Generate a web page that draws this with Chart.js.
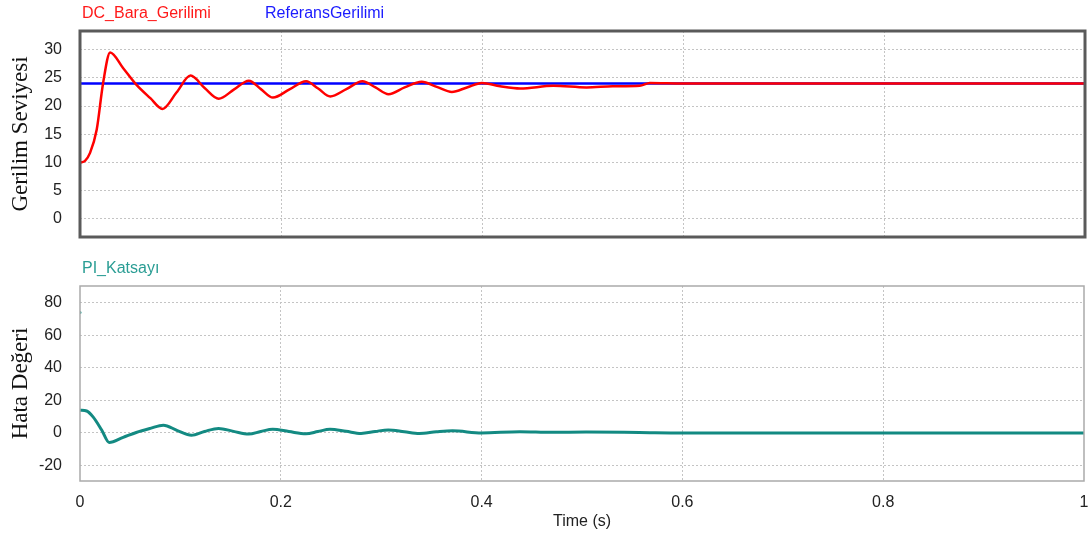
<!DOCTYPE html>
<html>
<head>
<meta charset="utf-8">
<script src="https://cdn.jsdelivr.net/npm/chart.js@4/dist/chart.umd.min.js"></script>
<style>
  html, body { margin: 0; padding: 0; background: #fff; }
  #wrap { position: relative; width: 1088px; height: 538px; overflow: hidden; }
  canvas { position: absolute; left: 0; }
  #top-chart    { top: 0; }
  #bottom-chart { top: 245px; }
  .legend {
    position: absolute;
    font: 16px "Liberation Sans", Arial, sans-serif;
    line-height: 18px;
    white-space: nowrap;
  }
</style>
</head>
<body>
<div id="wrap">
  <canvas id="top-chart" width="1088" height="245"></canvas>
  <canvas id="bottom-chart" width="1088" height="293"></canvas>
  <span class="legend" style="left:82px; top:4px; color:#ff1a1a;">DC_Bara_Gerilimi</span>
  <span class="legend" style="left:265px; top:4px; color:#1a1aff;">ReferansGerilimi</span>
  <span class="legend" style="left:82px; top:259px; color:#2a9d94;">PI_Katsayı</span>
</div>
<script>
"use strict";

// ── Data ──────────────────────────────────────────────────────────────────────
const redTime   = [0, 0.005, 0.01, 0.0166, 0.023, 0.030, 0.043, 0.056, 0.070, 0.082,
                   0.096, 0.110, 0.124, 0.138, 0.153, 0.168, 0.180, 0.192, 0.208, 0.225,
                   0.237, 0.249, 0.265, 0.281, 0.294, 0.307, 0.323, 0.340, 0.355, 0.370,
                   0.385, 0.400, 0.418, 0.438, 0.471, 0.504, 0.530, 0.557, 0.567, 0.600, 1.0];
const redValues = [10, 10.3, 11.7, 15.8, 24.1, 29.5, 26.7, 23.8, 21.4, 19.5,
                   22.4, 25.4, 23.2, 21.3, 22.9, 24.5, 23.0, 21.5, 22.9, 24.4,
                   23.1, 21.7, 23.0, 24.4, 23.3, 22.1, 23.3, 24.3, 23.4, 22.5,
                   23.3, 24.1, 23.5, 23.1, 23.6, 23.3, 23.5, 23.6, 24.1, 24.0, 24.0];

const refTime   = [0, 1];
const refValues = [24, 24];

const piTime    = [0, 0.0066, 0.013, 0.0216, 0.029, 0.043, 0.056, 0.070, 0.083, 0.097,
                   0.111, 0.124, 0.138, 0.153, 0.168, 0.180, 0.192, 0.208, 0.225, 0.237,
                   0.249, 0.265, 0.280, 0.294, 0.307, 0.323, 0.338, 0.355, 0.371, 0.400,
                   0.438, 0.470, 0.504, 0.557, 0.600, 1.0];
const piValues  = [14, 13.5, 9.9, 1.8, -5.8, -2.7, 0.3, 2.8, 4.8, 1.5,
                   -1.4, 0.9, 2.8, 1.0, -0.7, 0.9, 2.3, 0.9, -0.5, 0.9,
                   2.3, 1.0, -0.3, 0.9, 1.9, 0.8, -0.3, 0.7, 1.3, 0.0,
                   0.8, 0.4, 0.6, 0.3, 0.0, 0.0];
// single stray sample at t = 0
const piSpikeTime   = [0];
const piSpikeValues = [74];

const xTicks       = [0, 0.2, 0.4, 0.6, 0.8, 1];
const topYTicks    = [0, 5, 10, 15, 20, 25, 30];
const bottomYTicks = [-20, 0, 20, 40, 60, 80];

// ── Helpers ───────────────────────────────────────────────────────────────────
const pts = (xs, ys) => xs.map((x, i) => ({ x, y: ys[i] }));
const setTicks = list => axis => { axis.ticks = list.map(value => ({ value })); };

const tickFont  = { family: "'Liberation Sans', Arial, sans-serif", size: 16 };
const titleFont = { family: "'Liberation Serif', 'Times New Roman', serif", size: 23 };
const gridColor = "#c4c4c4";

// draws the box around the plot area
const framePlugin = {
  id: "frame",
  afterDraw(chart, args, opts) {
    const { ctx, chartArea: a } = chart;
    ctx.save();
    ctx.strokeStyle = opts.color;
    ctx.lineWidth   = opts.width;
    ctx.strokeRect(a.left, a.top, a.right - a.left, a.bottom - a.top);
    ctx.restore();
  },
};

function xScale(showLabels) {
  return {
    type: "linear",
    min: 0,
    max: 1,
    afterBuildTicks: setTicks(xTicks),
    // fixed height, and no extra side padding for the end labels
    afterFit: s => {
      s.height = showLabels ? 57 : 0;
      s.paddingLeft = 0;
      s.paddingRight = 0;
    },
    grid: {
      drawTicks: false,
      color: c => (c.tick && (c.tick.value === 0 || c.tick.value === 1)) ? "rgba(0,0,0,0)" : gridColor,
    },
    border: { display: false, dash: [2, 2] },
    ticks: {
      display: showLabels,
      color: "#222",
      font: tickFont,
      padding: 12,
      maxRotation: 0,
      callback: v => String(v),
    },
    title: {
      display: showLabels,
      text: "Time (s)",
      color: "#222",
      font: tickFont,
      padding: { top: 0, bottom: 7 },
    },
  };
}

function yScale(min, max, ticks, title) {
  return {
    type: "linear",
    min,
    max,
    afterBuildTicks: setTicks(ticks),
    afterFit: s => {
      s.width = 80;
      s.paddingTop = 0;
      s.paddingBottom = 0;
    },
    grid: { drawTicks: false, color: gridColor },
    border: { display: false, dash: [2, 2] },
    ticks: { color: "#222", font: tickFont, padding: 18 },
    title: {
      display: true,
      text: title,
      color: "#111",
      font: titleFont,
      padding: { top: 7, bottom: 0 },
    },
  };
}

const common = {
  responsive: false,
  animation: false,
  events: [],
  plugins: { legend: { display: false }, tooltip: { enabled: false } },
};

// ── Top chart ─────────────────────────────────────────────────────────────────
new Chart(document.getElementById("top-chart"), {
  type: "line",
  data: {
    datasets: [
      {
        label: "DC_Bara_Gerilimi",
        data: pts(redTime, redValues),
        borderColor: "#ff0000",
        borderWidth: 2.5,
        pointRadius: 0,
        cubicInterpolationMode: "monotone",
      },
      {
        label: "ReferansGerilimi",
        data: pts(refTime, refValues),
        borderColor: "#0000ff",
        borderWidth: 2.5,
        pointRadius: 0,
      },
    ],
  },
  options: {
    ...common,
    layout: { padding: { top: 31, bottom: 8, left: 0, right: 3 } },
    plugins: { ...common.plugins, frame: { color: "#5a5a5a", width: 3 } },
    scales: {
      x: xScale(false),
      y: yScale(-3.2, 33.3, topYTicks, "Gerilim Seviyesi"),
    },
  },
  plugins: [framePlugin],
});

// ── Bottom chart ──────────────────────────────────────────────────────────────
new Chart(document.getElementById("bottom-chart"), {
  type: "line",
  data: {
    datasets: [
      {
        label: "PI_Katsayı",
        data: pts(piTime, piValues),
        borderColor: "#138a82",
        borderWidth: 3,
        pointRadius: 0,
        cubicInterpolationMode: "monotone",
      },
      {
        label: "PI_Katsayı (t=0)",
        data: pts(piSpikeTime, piSpikeValues),
        showLine: false,
        pointRadius: 1.5,
        pointBorderWidth: 0,
        pointBackgroundColor: "#2a9d94",
      },
    ],
  },
  options: {
    ...common,
    layout: { padding: { top: 41, bottom: 0, left: 0, right: 3 } },
    plugins: { ...common.plugins, frame: { color: "#aaaaaa", width: 1.5 } },
    scales: {
      x: xScale(true),
      y: yScale(-29.5, 90.3, bottomYTicks, "Hata Değeri"),
    },
  },
  plugins: [framePlugin],
});
</script>
</body>
</html>
